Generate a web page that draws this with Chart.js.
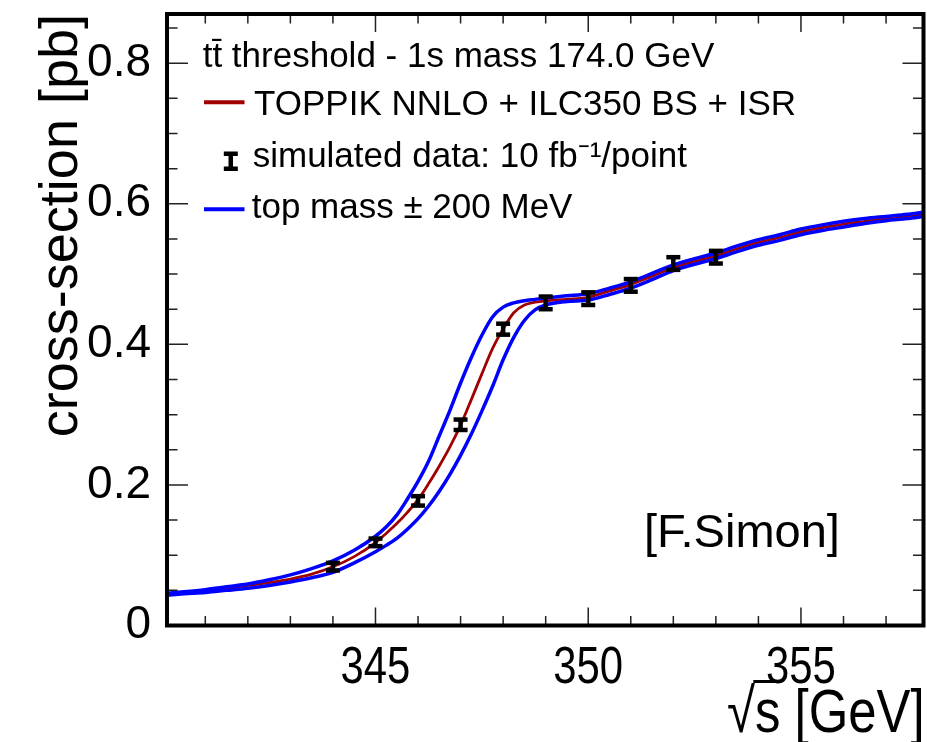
<!DOCTYPE html>
<html>
<head>
<meta charset="utf-8">
<script src="https://cdn.jsdelivr.net/npm/chart.js@4/dist/chart.umd.min.js"></script>
<style>
html,body{margin:0;padding:0;background:#ffffff;}
#wrap{width:927px;height:742px;position:relative;}
</style>
</head>
<body>
<div id="wrap"><canvas id="c" width="927" height="742"></canvas></div>
<script>
// ---------------- data ----------------
const energies = [340.1, 340.5, 341, 341.5, 342, 342.5, 343, 343.5, 344, 344.5,
  345, 345.25, 345.5, 345.75, 346, 346.25, 346.5, 346.75, 347, 347.25, 347.5, 347.75,
  348, 348.25, 348.5, 348.75, 349, 349.5, 350, 350.5, 351, 351.5, 352, 352.5, 353,
  353.5, 354, 354.5, 355, 355.5, 356, 356.5, 357, 357.5, 357.88];
const sigmaNominal = [0.045, 0.047, 0.050, 0.053, 0.057, 0.061, 0.066, 0.073, 0.0835, 0.098,
  0.118, 0.131, 0.145, 0.161, 0.179, 0.202, 0.227, 0.254, 0.285, 0.321, 0.358, 0.394,
  0.422, 0.445, 0.456, 0.460, 0.462, 0.464, 0.467, 0.476, 0.485, 0.497, 0.509, 0.518, 0.526,
  0.536, 0.545, 0.552, 0.560, 0.566, 0.571, 0.575, 0.579, 0.582, 0.585];
const sigmaMassLow = [0.046, 0.048, 0.051, 0.055, 0.059, 0.065, 0.072, 0.081, 0.092, 0.107,
  0.127, 0.140, 0.157, 0.180, 0.205, 0.234, 0.270, 0.306, 0.345, 0.381, 0.413, 0.439,
  0.453, 0.459, 0.462, 0.464, 0.466, 0.469, 0.472, 0.480, 0.489, 0.501, 0.513, 0.522, 0.530,
  0.540, 0.549, 0.556, 0.564, 0.570, 0.575, 0.579, 0.582, 0.585, 0.588];
const sigmaMassHigh = [0.043, 0.045, 0.047, 0.050, 0.053, 0.057, 0.062, 0.068, 0.0755, 0.089,
  0.105, 0.114, 0.124, 0.137, 0.152, 0.170, 0.191, 0.215, 0.242, 0.272, 0.305, 0.340,
  0.378, 0.410, 0.434, 0.449, 0.456, 0.461, 0.463, 0.471, 0.480, 0.492, 0.505, 0.514, 0.522,
  0.532, 0.541, 0.548, 0.556, 0.562, 0.567, 0.572, 0.576, 0.579, 0.582];
const pointEnergies = [344, 345, 346, 347, 348, 349, 350, 351, 352, 353];
const pointSigma = [0.0837, 0.1183, 0.1773, 0.2856, 0.4216, 0.459, 0.465, 0.4839, 0.515, 0.524];
const pointError = [0.0054, 0.0054, 0.0067, 0.0074, 0.0078, 0.0090, 0.0090, 0.0090, 0.0090, 0.0090];

// ---------------- axis ticks / texts ----------------
const xMajorTicks = [345, 350, 355];
const xTickLabels = ['345', '350', '355'];
const xMinorTicks = [341, 342, 343, 344, 346, 347, 348, 349, 351, 352, 353, 354, 356, 357];
const yMajorTicks = [0, 0.2, 0.4, 0.6, 0.8];
const yMinorTicks = [0.05, 0.1, 0.15, 0.25, 0.3, 0.35, 0.45, 0.5, 0.55, 0.65, 0.7, 0.75, 0.85];
const yTickLabels = ['0', '0.2', '0.4', '0.6', '0.8'];
const xTitleRoot = '\u221A';
const xTitleRest = 's [GeV]';
const yTitle = 'cross-section [pb]';
const legendHeader = 'tt\u0304 threshold - 1s mass 174.0 GeV';
const labelNominal = 'TOPPIK NNLO + ILC350 BS + ISR';
const labelData = 'simulated data: 10 fb\u207B\u00B9/point';
const labelMass = 'top mass \u00B1 200 MeV';
const creditText = '[F.Simon]';

const RED = '#a00000';
const BLUE = '#0000ff';
const SANS = '"Liberation Sans", Arial, Helvetica, sans-serif';
const SQUEEZE = 0.82;   // x-axis texts are horizontally condensed in the reference

function pts(xs, ys) { return xs.map((x, i) => ({x: x, y: ys[i]})); }
function noPad(s) { s.paddingTop = 0; s.paddingBottom = 0; s.paddingLeft = 0; s.paddingRight = 0; }

// ---------------- plugin: frame, inner ticks, error bars, x texts, legend ----------------
const rootStyle = {
  id: 'rootStyle',
  afterDatasetsDraw(chart) {
    const ctx = chart.ctx;
    const xs = chart.scales.x, ys = chart.scales.y;
    const ds = chart.data.datasets[3];
    ctx.save();
    ctx.fillStyle = '#000';
    ds.data.forEach((p, i) => {
      const px = xs.getPixelForValue(p.x);
      const yt = ys.getPixelForValue(p.y + ds.errors[i]);
      const yb = ys.getPixelForValue(p.y - ds.errors[i]);
      ctx.fillRect(px - 2.25, yt, 4.5, yb - yt);
      ctx.fillRect(px - 7, yt - 2.25, 14, 4.5);
      ctx.fillRect(px - 7, yb - 2.25, 14, 4.5);
    });
    ctx.restore();
  },
  afterDraw(chart) {
    const ctx = chart.ctx;
    const a = chart.chartArea;
    const xs = chart.scales.x, ys = chart.scales.y;
    ctx.save();
    ctx.strokeStyle = '#222';
    ctx.lineWidth = 1.5;
    ctx.beginPath();
    const xt = (v, len) => {
      const px = xs.getPixelForValue(v);
      ctx.moveTo(px, a.bottom); ctx.lineTo(px, a.bottom - len);
      ctx.moveTo(px, a.top); ctx.lineTo(px, a.top + len);
    };
    const yt = (v, len) => {
      const py = ys.getPixelForValue(v);
      ctx.moveTo(a.left, py); ctx.lineTo(a.left + len, py);
      ctx.moveTo(a.right, py); ctx.lineTo(a.right - len, py);
    };
    xMajorTicks.forEach(v => xt(v, 18));
    xMinorTicks.forEach(v => xt(v, 9.5));
    yMajorTicks.forEach(v => yt(v, 21));
    yMinorTicks.forEach(v => yt(v, 10.5));
    ctx.stroke();
    ctx.strokeStyle = '#000';
    ctx.lineWidth = 4;
    ctx.strokeRect(a.left, a.top, a.right - a.left, a.bottom - a.top);

    ctx.fillStyle = '#000';
    ctx.textBaseline = 'alphabetic';
    ctx.font = '51px ' + SANS;
    ctx.textAlign = 'center';
    xMajorTicks.forEach((v, i) => {
      ctx.save();
      ctx.translate(xs.getPixelForValue(v), 683);
      ctx.scale(SQUEEZE, 1);
      ctx.fillText(xTickLabels[i], 0, 0);
      ctx.restore();
    });
    ctx.save();
    ctx.font = '62px ' + SANS;
    ctx.translate(a.right + 1, 732);
    ctx.scale(SQUEEZE, 1);
    ctx.textAlign = 'left';
    const wRoot = ctx.measureText(xTitleRoot).width;
    const wRest = ctx.measureText(xTitleRest).width;
    const wS = ctx.measureText('s').width;
    const x0 = -(wRoot + wRest);
    ctx.fillText(xTitleRoot, x0, 0);
    ctx.fillText(xTitleRest, x0 + wRoot, 0);
    ctx.fillRect(x0 + wRoot - 2, -52, wS + 3, 3);
    ctx.restore();

    const dsets = chart.data.datasets;
    ctx.textAlign = 'left';
    ctx.font = '35px ' + SANS;
    ctx.fillText(legendHeader, 202.7, 66.7);
    ctx.strokeStyle = dsets[2].borderColor;
    ctx.lineWidth = 4;
    ctx.beginPath(); ctx.moveTo(204, 102.3); ctx.lineTo(244.5, 102.3); ctx.stroke();
    ctx.fillText(dsets[2].label, 254, 115);
    ctx.fillRect(228.5, 153.7, 4.5, 15);
    ctx.fillRect(223.8, 151.5, 14, 4.5);
    ctx.fillRect(223.8, 166.5, 14, 4.5);
    ctx.fillText(dsets[3].label, 252.7, 166.7);
    ctx.strokeStyle = dsets[0].borderColor;
    ctx.beginPath(); ctx.moveTo(204, 209.3); ctx.lineTo(244.5, 209.3); ctx.stroke();
    ctx.fillText(dsets[0].label, 251.7, 218);
    ctx.font = '47px ' + SANS;
    ctx.fillText(creditText, 644, 547);
    ctx.restore();
  }
};

const chart = new Chart(document.getElementById('c'), {
  type: 'scatter',
  data: {
    datasets: [
      {label: labelMass, data: pts(energies, sigmaMassLow), showLine: true, borderColor: BLUE,
       borderWidth: 3.5, pointRadius: 0, tension: 0.3, cubicInterpolationMode: 'monotone'},
      {label: labelMass, data: pts(energies, sigmaMassHigh), showLine: true, borderColor: BLUE,
       borderWidth: 3.5, pointRadius: 0, tension: 0.3, cubicInterpolationMode: 'monotone'},
      {label: labelNominal, data: pts(energies, sigmaNominal), showLine: true, borderColor: RED,
       borderWidth: 2.8, pointRadius: 0, tension: 0.3, cubicInterpolationMode: 'monotone'},
      {label: labelData, data: pts(pointEnergies, pointSigma), errors: pointError,
       showLine: false, pointRadius: 0, borderColor: '#000', backgroundColor: '#000'}
    ]
  },
  options: {
    responsive: false,
    animation: false,
    devicePixelRatio: 1,
    layout: {padding: {left: 0, top: 14, right: 3.5, bottom: 0}},
    plugins: {legend: {display: false}, tooltip: {enabled: false}},
    scales: {
      x: {
        type: 'linear', min: 340.1, max: 357.88,
        grid: {display: false, drawTicks: false},
        border: {display: false},
        afterBuildTicks: s => { s.ticks = xMajorTicks.map(v => ({value: v})); },
        afterFit: s => { s.height = 116.5; noPad(s); },
        ticks: {display: false}
      },
      y: {
        type: 'linear', min: 0, max: 0.87,
        grid: {display: false, drawTicks: false},
        border: {display: false},
        afterBuildTicks: s => { s.ticks = yMajorTicks.map(v => ({value: v})); },
        afterFit: s => { s.width = 167; noPad(s); },
        ticks: {color: '#000', padding: 16, autoSkip: false,
                font: {family: SANS, size: 46},
                callback: (v) => yTickLabels[yMajorTicks.indexOf(v)]},
        title: {display: true, text: yTitle, align: 'end', color: '#000',
                font: {family: SANS, size: 54, lineHeight: 1}, padding: {top: 35, bottom: 0}}
      }
    }
  },
  plugins: [rootStyle]
});
</script>
</body>
</html>
